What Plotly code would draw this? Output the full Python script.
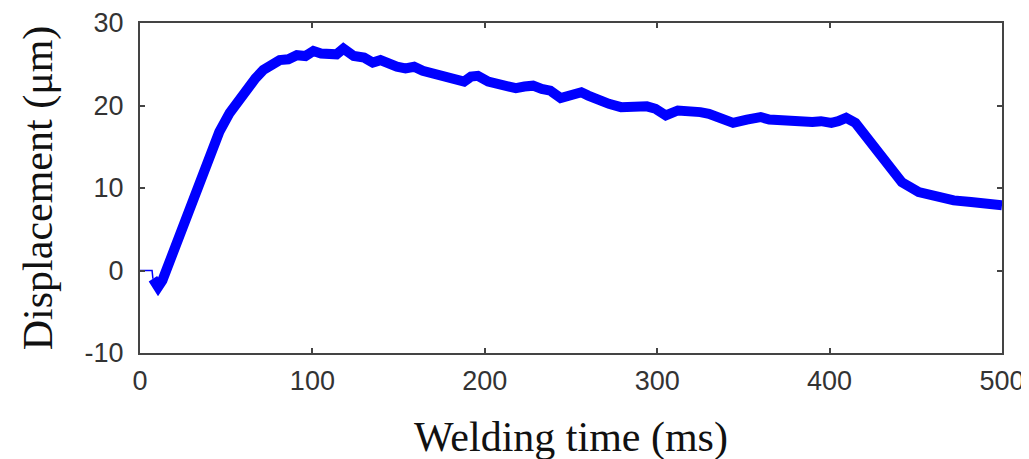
import plotly.graph_objects as go

# Initial flat segment (thin line)
flat_time_ms = [0, 7, 7.5]
flat_disp_um = [0, 0, -1.0]

# Main displacement trace
time_ms = [7.5, 9, 10.5, 13, 17, 23, 28, 33, 37, 40.7, 46, 52, 57, 62, 67, 71.5, 76, 81, 86, 91,
           96, 100.6, 105, 110, 114, 118, 124, 130, 135, 139.5, 144, 149, 154, 159, 164, 168.6,
           173, 178, 183, 188, 192, 196, 202, 207.6, 213, 218, 223, 228, 233, 238, 244, 250, 256,
           260, 264, 272, 279, 284, 289, 294, 299, 305, 312, 320, 325, 330, 337, 344, 352, 360,
           365, 370, 375, 380, 385, 390, 395, 401, 405, 409.6, 415, 421.5, 427.6, 435.5, 441.9,
           451.7, 462, 472, 482, 492, 500]
disp_um = [-1.0, -1.8, -2.0, -1.2, 1.0, 4.5, 7.4, 10.1, 12.6, 14.6, 16.8, 19.1, 20.6, 21.9, 23.3,
           24.3, 24.8, 25.5, 25.6, 26.1, 26.0, 26.6, 26.3, 26.4, 26.2, 26.9, 26.0, 25.8, 25.2, 25.5,
           25.0, 24.7, 24.5, 24.7, 24.2, 23.9, 23.9, 23.4, 23.2, 22.9, 23.5, 23.6, 22.9, 22.6, 22.4,
           22.1, 22.3, 22.4, 22.0, 21.8, 20.9, 21.3, 21.6, 21.2, 20.8, 20.2, 19.8, 19.9, 19.8, 19.9,
           19.6, 18.8, 19.4, 19.4, 19.2, 19.0, 18.4, 17.9, 18.3, 18.6, 18.3, 18.2, 18.4, 18.2, 18.2,
           18.0, 18.1, 17.9, 18.1, 18.5, 17.9, 16.2, 14.2, 12.2, 10.7, 9.5, 8.9, 8.5, 8.3, 8.2, 7.9]

x_ticks = [0, 100, 200, 300, 400, 500]
x_tick_text = ["0", "100", "200", "300", "400", "500"]
y_ticks = [-10, 0, 10, 20, 30]
y_tick_text = ["-10", "0", "10", "20", "30"]

fig = go.Figure()
fig.add_trace(go.Scatter(x=flat_time_ms, y=flat_disp_um, mode="lines",
                         line=dict(color="#0000ff", width=1.5), showlegend=False))
fig.add_trace(go.Scatter(x=time_ms, y=disp_um, mode="lines",
                         line=dict(color="#0000ff", width=10), showlegend=False))

axis_common = dict(
    showline=True, linecolor="#444444", linewidth=2, mirror="ticks",
    ticks="inside", ticklen=5, tickwidth=1.5, tickcolor="#444444",
    showgrid=False, zeroline=False, automargin=False,
    tickfont=dict(family="Liberation Sans, Arial, sans-serif", size=27, color="#333333"),
)

fig.update_xaxes(range=[0, 500], tickvals=x_ticks, ticktext=x_tick_text, ticklabelstandoff=3,
                 **axis_common,
                 title=dict(text="Welding time (ms)", standoff=26,
                            font=dict(family="Liberation Serif, Times New Roman, serif", size=42, color="#111111")))
fig.update_yaxes(range=[-10, 30], tickvals=y_ticks, ticktext=y_tick_text, ticklabelstandoff=9,
                 **axis_common,
                 title=dict(text="Displacement (μm)", standoff=19,
                            font=dict(family="Liberation Serif, Times New Roman, serif", size=42, color="#111111")))

# page body has an 8px default margin; margins compensate so the plot box sits at
# x 140..1002, y 23..353 in the browser window
fig.update_layout(width=1029, height=459, autosize=False,
                  margin=dict(l=132, r=35, t=15, b=114),
                  plot_bgcolor="white", paper_bgcolor="white")

fig.write_html("out.html")
